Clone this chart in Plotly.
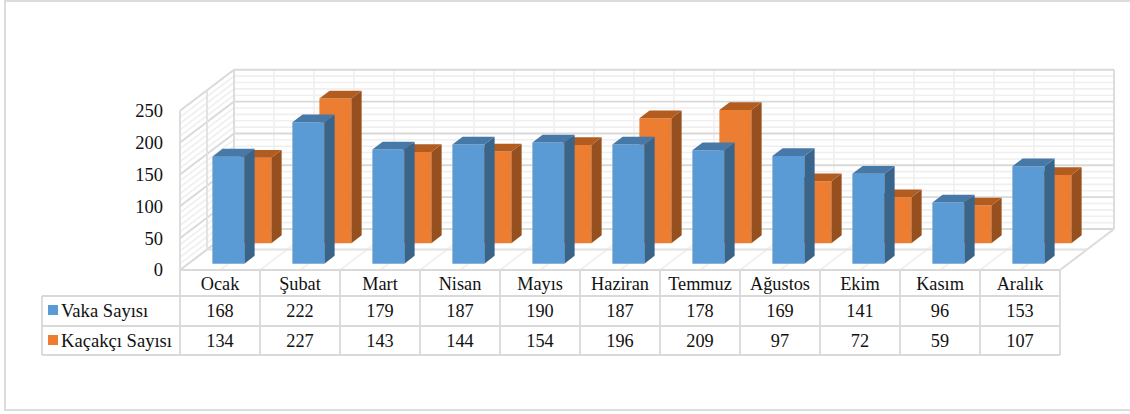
import plotly.graph_objects as go

months = ["Ocak", "Şubat", "Mart", "Nisan", "Mayıs", "Haziran", "Temmuz", "Ağustos", "Ekim", "Kasım", "Aralık"]
vaka = [168, 222, 179, 187, 190, 187, 178, 169, 141, 96, 153]
kacakci = [134, 227, 143, 144, 154, 196, 209, 97, 72, 59, 107]
series_names = ["Vaka Sayısı", "Kaçakçı Sayısı"]
y_ticks = [0, 50, 100, 150, 200, 250]

W, H = 1130, 414
X0 = 180                # px of category 0
Y0 = 270                # px of value 0
UX, UY = 80.0, 0.637    # px per category, px per value
DX, DY = 54 / UX, 41 / UY   # full floor depth, in axis units
SER = "Liberation Serif"
TXT = "#111111"
XR = [-X0 / UX, (W - X0) / UX]
YR = [(Y0 - H) / UY, Y0 / UY]
to_x = lambda p: (p - X0) / UX
to_y = lambda p: (Y0 - p) / UY


def side_top(vals, d0, d1):
    """Side and top polygons for bars occupying depth fraction d0..d1"""
    sx, sy, tx, ty = [], [], [], []
    bw = 0.4
    for i, v in enumerate(vals):
        l = i + 0.5 - bw / 2 + d0 * DX
        r = l + bw
        b = d0 * DY
        ddx, ddy = (d1 - d0) * DX, (d1 - d0) * DY
        sx += [r, r + ddx, r + ddx, r, r, None]
        sy += [b, b + ddy, b + v + ddy, b + v, b, None]
        tx += [l, r, r + ddx, l + ddx, l, None]
        ty += [b + v, b + v, b + v + ddy, b + v + ddy, b + v, None]
    return sx, sy, tx, ty


fig = go.Figure()


def lines(xs, ys, color, width):
    fig.add_trace(go.Scatter(x=xs, y=ys, mode="lines", hoverinfo="skip", showlegend=False,
                             line=dict(color=color, width=width)))


n = len(months)
mx, my = [], []          # minor grid
for v in range(0, 251, 10):
    if v % 50:
        mx += [DX, DX + n, None, 0, DX, None]
        my += [v + DY, v + DY, None, v, v + DY, None]
for k in range(0, 2 * n + 1):
    c = k / 2
    mx += [c + DX, c + DX, None, c, c + DX, None]
    my += [DY, 250 + DY, None, 0, DY, None]
lines(mx, my, "#efefef", 1.6)

Mx, My = [], []          # major grid
for v in y_ticks:
    Mx += [DX, DX + n, None, 0, DX, None]
    My += [v + DY, v + DY, None, v, v + DY, None]
lines(Mx, My, "#d9d9d9", 1.9)
lines([0, 0, None, DX, DX, None, DX + n, DX + n, None, n, DX + n],
      [0, 250, None, DY, 250 + DY, None, DY, 250 + DY, None, 0, DY], "#dcdcdc", 1.9)
lines([0.5 * DX, 0.5 * DX + n, None, 0.5 * DX, 0.5 * DX], [0.5 * DY, 0.5 * DY, None, 0.5 * DY, 250 + 0.5 * DY],
      "#e2e2e2", 1.9)

# bars: orange (rear row) on overlay axes 2, blue (front row) on overlay axes 3
rows = [
    (kacakci, 0.655, 0.845, "#ED7D31", "#964F1E", "#B35C20", series_names[1], "x2", "y2"),
    (vaka, 0.155, 0.345, "#5B9BD5", "#3A658B", "#4678A8", series_names[0], "x3", "y3"),
]
for vals, d0, d1, front, side, top, name, xa, ya in rows:
    sx, sy, tx, ty = side_top(vals, d0, d1)
    fig.add_trace(go.Bar(x=[i + 0.5 + d0 * DX for i in range(n)], y=vals, base=[d0 * DY] * n, width=0.4,
                         marker=dict(color=front, line=dict(width=0)), name=name, showlegend=False,
                         xaxis=xa, yaxis=ya))
    for px_, py_, col in ((sx, sy, side), (tx, ty, top)):
        fig.add_trace(go.Scatter(x=px_, y=py_, mode="lines", fill="toself", fillcolor=col,
                                 line=dict(width=0, color=col), hoverinfo="skip", showlegend=False,
                                 xaxis=xa, yaxis=ya))

# data table
Y_ROW = [296, 326, 355]
LEFT = to_x(42)
tx_, ty_ = [], []
for p in Y_ROW:
    tx_ += [LEFT, n, None]
    ty_ += [to_y(p), to_y(p), None]
tx_ += [0, n, None]
ty_ += [to_y(Y0), to_y(Y0), None]
tx_ += [LEFT, LEFT, None]
ty_ += [to_y(Y_ROW[0]), to_y(Y_ROW[2]), None]
for i in range(n + 1):
    tx_ += [i, i, None]
    ty_ += [to_y(Y0), to_y(Y_ROW[2]), None]
lines(tx_, ty_, "#d9d9d9", 1.8)

# outer frame
lines([XR[1], to_x(5), to_x(5), XR[1]], [to_y(1), to_y(1), to_y(410), to_y(410)], "#dcdcdc", 2)

for yc, texts, fs in ((285, months, 18.3), (312.5, vaka, 18.3), (342.5, kacakci, 18.3)):
    fig.add_trace(go.Scatter(x=[i + 0.5 for i in range(n)], y=[to_y(yc)] * n, text=[str(t) for t in texts],
                             mode="text", hoverinfo="skip", showlegend=False,
                             textposition="middle center",
                             textfont=dict(family=SER, size=fs, color=TXT)))

for yc, name, col in ((311, series_names[0], "#5B9BD5"), (341, series_names[1], "#ED7D31")):
    fig.add_trace(go.Scatter(x=[to_x(53)], y=[to_y(yc - 1)], mode="markers", hoverinfo="skip", showlegend=False,
                             marker=dict(symbol="square", size=10, color=col, line=dict(width=0))))
    fig.add_annotation(x=to_x(62), y=to_y(yc - 0.5), text=name, xanchor="left", yanchor="middle",
                       showarrow=False, xref="x", yref="y", xshift=-3,
                       font=dict(family=SER, size=18.6, color=TXT))

hidden = dict(range=XR, visible=False, fixedrange=True, automargin=False, domain=[0, 1])
hiddeny = dict(range=YR, visible=False, fixedrange=True, automargin=False, domain=[0, 1])
fig.update_layout(
    width=W, height=H, autosize=False,
    margin=dict(l=0, r=0, t=0, b=0, autoexpand=False),
    paper_bgcolor="white", plot_bgcolor="rgba(0,0,0,0)",
    barmode="overlay", showlegend=False,
    xaxis=hidden,
    yaxis=dict(domain=[0, 1], range=YR, tickvals=y_ticks, ticktext=[str(t) for t in y_ticks],
               anchor="free", position=X0 / W, showgrid=False, zeroline=False, showline=False,
               ticks="", ticklabelstandoff=17, fixedrange=True, automargin=False,
               tickfont=dict(family=SER, size=18.5, color=TXT)),
    xaxis2=dict(hidden, overlaying="x"),
    yaxis2=dict(hiddeny, overlaying="y"),
    xaxis3=dict(hidden, overlaying="x"),
    yaxis3=dict(hiddeny, overlaying="y"),
)
fig.write_html("out.html", config=dict(displayModeBar=False), post_script="document.body.style.margin='0';")
